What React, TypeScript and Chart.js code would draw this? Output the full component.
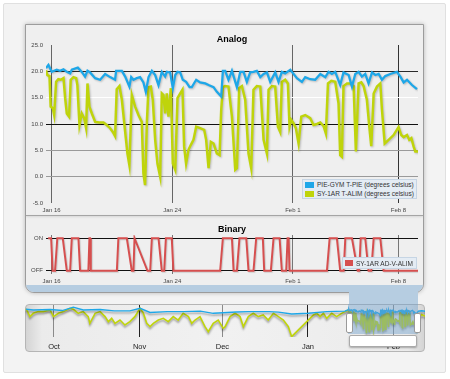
import React, { useEffect, useRef } from "react";
import { Chart, registerables } from "chart.js";

Chart.register(...registerables);

// ---------- DATA (x = days after Jan 16) ----------
const analogTickDays = [0, 8, 16, 23];
const analogTickLabels = ["Jan 16", "Jan 24", "Feb 1", "Feb 8"];
const analogYTicks = [-5, 0, 5, 10, 15, 20, 25];

const blueDays = [-0.37, -0.21, 0.01, 0.34, 0.56, 0.79, 1.01, 1.23, 1.34, 1.74, 2.0, 2.22, 2.38, 2.55, 2.89, 3.22, 3.55, 3.88, 4.21, 4.28, 4.66, 4.88, 5.16, 5.28, 5.43, 5.65, 5.87, 6.09, 6.25, 6.43, 6.65, 6.87, 7.09, 7.31, 7.53, 7.64, 7.86, 8.04, 8.2, 8.35, 8.53, 8.7, 8.92, 9.15, 9.3, 9.59, 9.85, 10.19, 10.41, 10.74, 10.96, 11.25, 11.36, 11.51, 11.73, 11.96, 12.29, 12.51, 12.73, 12.95, 13.17, 13.39, 13.61, 13.84, 14.06, 14.28, 14.5, 14.83, 15.05, 15.27, 15.49, 15.83, 15.94, 16.27, 16.6, 16.82, 17.15, 17.48, 17.82, 18.15, 18.37, 18.59, 18.81, 19.14, 19.36, 19.7, 19.92, 20.14, 20.36, 20.58, 20.8, 21.02, 21.25, 21.47, 21.69, 21.91, 22.13, 22.46, 22.9, 23.13, 23.35, 23.57, 23.9, 24.23];
const blueValues = [20.6, 21.2, 19.9, 20.3, 20.1, 20.4, 19.9, 19.6, 20.3, 20.7, 19.9, 19.0, 20.1, 19.8, 18.7, 18.4, 19.5, 18.9, 18.4, 20.1, 20.1, 19.0, 17.1, 18.9, 18.4, 18.7, 18.9, 17.9, 16.1, 18.9, 20.1, 19.3, 17.4, 19.9, 19.0, 19.9, 19.8, 16.8, 19.3, 19.9, 19.8, 18.4, 18.0, 17.0, 17.0, 18.4, 17.9, 17.7, 17.4, 17.0, 16.1, 15.2, 20.1, 20.1, 18.4, 20.1, 17.0, 19.9, 19.9, 18.0, 19.8, 19.9, 20.1, 18.9, 19.5, 19.8, 18.0, 19.8, 18.0, 19.9, 19.6, 20.3, 19.9, 18.7, 18.0, 18.9, 18.5, 18.4, 19.5, 18.9, 19.9, 19.5, 19.9, 17.4, 19.8, 19.3, 17.1, 19.5, 19.9, 19.0, 19.5, 17.7, 19.8, 19.3, 19.5, 18.4, 19.1, 19.5, 19.9, 19.0, 17.9, 18.4, 17.4, 16.6];

const greenDays = [-0.37, -0.28, -0.14, -0.06, 0.08, 0.17, 0.3, 0.45, 0.61, 0.79, 0.9, 1.01, 1.16, 1.27, 1.45, 1.63, 1.71, 1.85, 2.0, 2.16, 2.29, 2.38, 2.51, 2.67, 2.89, 3.17, 3.44, 3.66, 3.88, 4.06, 4.21, 4.32, 4.5, 4.66, 4.88, 5.03, 5.16, 5.32, 5.54, 5.76, 5.98, 6.09, 6.2, 6.32, 6.43, 6.58, 6.71, 6.87, 7.02, 7.2, 7.31, 7.42, 7.53, 7.64, 7.75, 7.91, 8.04, 8.2, 8.35, 8.53, 8.68, 8.79, 8.92, 9.08, 9.23, 9.41, 9.59, 9.85, 10.12, 10.25, 10.41, 10.56, 10.74, 10.96, 11.14, 11.25, 11.36, 11.51, 11.73, 11.96, 12.18, 12.29, 12.44, 12.62, 12.84, 13.06, 13.24, 13.39, 13.61, 13.84, 14.06, 14.17, 14.28, 14.39, 14.61, 14.83, 15.01, 15.16, 15.27, 15.49, 15.67, 15.78, 15.89, 16.05, 16.2, 16.38, 16.56, 16.82, 17.15, 17.37, 17.6, 17.82, 18.04, 18.19, 18.33, 18.55, 18.81, 19.03, 19.14, 19.25, 19.36, 19.59, 19.81, 20.03, 20.18, 20.36, 20.54, 20.69, 20.91, 21.07, 21.2, 21.36, 21.58, 21.8, 21.91, 22.09, 22.35, 22.68, 23.01, 23.19, 23.35, 23.57, 23.72, 23.86, 24.01, 24.12, 24.3];
const greenValues = [20.2, 19.3, 19.1, 13.3, 13.0, 11.7, 18.0, 18.5, 18.4, 18.7, 14.9, 12.0, 11.4, 18.4, 18.9, 18.7, 17.4, 9.8, 12.0, 11.1, 9.2, 17.7, 13.3, 12.0, 10.4, 10.3, 10.3, 9.8, 9.2, 8.5, 7.7, 16.6, 17.2, 14.6, 8.5, 4.4, 2.2, 15.5, 13.3, 11.7, 10.4, 0.6, -1.6, 10.4, 17.0, 17.1, 14.6, 7.0, 2.5, 0.0, 15.8, 15.5, 12.0, 15.8, 11.4, 16.8, 2.5, 1.3, 14.9, 15.8, 16.5, 5.7, 2.5, 5.1, 6.0, 7.0, 9.5, 9.2, 8.9, 7.0, 1.6, 6.6, 6.3, 4.4, 4.1, 12.7, 17.0, 17.2, 17.1, 11.4, 1.3, 1.6, 16.8, 17.2, 14.6, 4.4, 1.6, 16.5, 17.2, 17.1, 7.0, 5.7, 4.4, 16.5, 17.2, 17.1, 9.5, 8.5, 18.0, 18.4, 17.7, 9.5, 10.8, 10.1, 9.2, 6.3, 11.4, 11.7, 11.1, 9.8, 10.0, 10.3, 9.6, 8.2, 17.7, 18.2, 18.0, 13.9, 4.1, 3.8, 17.2, 17.7, 17.7, 17.2, 4.8, 17.7, 17.9, 17.2, 14.6, 9.5, 5.8, 15.8, 17.1, 17.7, 12.7, 6.3, 7.0, 7.9, 9.4, 7.9, 7.5, 7.9, 7.0, 7.3, 5.7, 4.8, 4.8];

const binaryLabels = ["OFF", "ON"];
const binaryDays = [-0.23, -0.03, 0.07, 0.23, 0.38, 0.74, 1.01, 1.23, 1.34, 1.78, 1.89, 2.44, 2.51, 2.55, 2.6, 4.33, 4.43, 4.99, 5.32, 5.43, 5.5, 5.53, 6.36, 6.54, 6.65, 7.09, 7.31, 7.47, 7.58, 7.97, 8.08, 11.18, 11.36, 11.96, 12.07, 12.29, 12.46, 12.91, 13.06, 13.39, 13.57, 14.01, 14.1, 14.54, 14.72, 15.12, 15.27, 15.56, 15.65, 15.72, 15.78, 18.26, 18.44, 18.92, 19.14, 19.37, 19.48, 19.92, 20.3, 20.4, 20.5, 20.8, 21.02, 21.2, 21.36, 21.8, 22.02, 24.3];
const binaryValues = [1, 1, 0, 0, 1, 1, 0, 0, 1, 1, 0, 0, 1, 1, 0, 0, 1, 1, 0, 0, 1, 1, 0, 0, 1, 1, 0, 0, 1, 1, 0, 0, 1, 1, 0, 0, 1, 1, 0, 0, 1, 1, 0, 0, 1, 1, 0, 0, 1, 1, 0, 0, 1, 1, 0, 0, 1, 1, 0, 0, 1, 1, 0, 0, 1, 1, 0, 0];

// navigator (history before the zoomed range + a short tail after it)
const navMonthDays = [-107, -76, -46, -15, 16];
const navMonthLabels = ["Oct", "Nov", "Dec", "Jan", "Feb"];
const navGreenDays = [-117.1, -115.7, -114.5, -112.7, -110.9, -108.4, -107.2, -105.4, -103.6, -101.2, -100.0, -98.2, -96.4, -94.6, -94.0, -92.1, -90.3, -88.5, -87.3, -86.1, -84.9, -83.1, -81.3, -79.5, -77.7, -75.8, -74.6, -73.4, -72.2, -71.0, -69.2, -67.4, -65.6, -63.8, -62.0, -60.2, -58.3, -57.1, -55.9, -54.1, -52.3, -51.1, -49.3, -47.5, -45.7, -45.0, -43.2, -41.4, -39.6, -38.4, -36.6, -34.8, -33.0, -31.2, -29.4, -27.5, -25.7, -23.9, -22.1, -20.9, -13.0, -11.8, -10.6, -9.4, -8.2, -6.4, -4.6, -2.8, -1.6];
const navGreenValues = [21.5, 14.1, 17.2, 18.8, 18.8, 20.3, 14.1, 17.2, 18.8, 21.9, 21.0, 17.2, 18.8, 14.1, 7.8, 17.2, 18.8, 14.1, 9.4, 12.5, 7.8, 10.9, 6.3, 9.4, 14.1, 21.9, 17.2, 7.8, 4.7, 7.8, 10.9, 12.5, 9.4, 14.1, 10.9, 17.2, 14.1, 7.8, 10.9, 14.1, 4.7, 0.0, 7.8, 10.9, 3.1, 4.7, 14.1, 17.2, 14.1, 4.7, 14.1, 17.2, 14.1, 15.6, 10.9, 17.2, 14.1, 10.9, 4.7, -4.7, 15.6, 17.2, 14.1, 17.2, 12.5, 17.2, 14.1, 17.2, 18.8];
const navBlueDays = [-117.1, -114.5, -108.4, -104, -100.0, -96.4, -90.3, -85.2, -79.5, -75.8, -72.2, -66.0, -60.0, -54.0, -49.3, -45.7, -41.0, -36.6, -29.0, -25.7, -20.9, -14.9, -8.2, -1.6];
const navBlueValues = [21.0, 20.3, 20.8, 19.8, 23.0, 20.3, 20.8, 19.5, 19.5, 21.9, 18.0, 18.8, 18.8, 19.3, 17.2, 17.8, 18.5, 18.8, 18.8, 18.3, 16.5, 17.2, 18.8, 19.3];
const navTailDays = [25.0, 26.2, 27.4];
const navTailBlue = [19.3, 19.6, 19.2];
const navTailGreen = [12.0, 16.0, 14.5];

// ---------- STYLE ----------
const BLUE = "#1ea7e8";
const GREEN = "#bfd40b";
const RED = "#d64f4f";
const FONT = "'Liberation Sans', Arial, Helvetica, sans-serif";
const X_MIN = -0.37;
const X_MAX = 24.3;

Chart.defaults.font.family = FONT;

const pts = (xs: number[], ys: number[]) => xs.map((x, i) => ({ x, y: ys[i] }));

const shadowPlugin = {
  id: "lineShadow",
  beforeDatasetsDraw(chart: any, _a: any, opts: any) {
    const c = chart.ctx;
    c.save();
    c.shadowColor = opts.color || "rgba(0,0,0,0.25)";
    c.shadowBlur = opts.blur ?? 2;
    c.shadowOffsetX = opts.dx ?? 1;
    c.shadowOffsetY = opts.dy ?? 1;
  },
  afterDatasetsDraw(chart: any) {
    chart.ctx.restore();
  },
};

function analogConfig(): any {
  return {
    type: "line",
    data: {
      datasets: [
        { label: "PIE-GYM T-PIE (degrees celsius)", data: pts(blueDays, blueValues), borderColor: BLUE, borderWidth: 2.3, pointRadius: 0, tension: 0, fill: false },
        { label: "SY-1AR T-ALIM (degrees celsius)", data: pts(greenDays, greenValues), borderColor: GREEN, borderWidth: 2.5, pointRadius: 0, tension: 0, fill: false },
      ],
    },
    plugins: [shadowPlugin],
    options: {
      animation: false,
      responsive: false,
      devicePixelRatio: 1,
      events: [],
      layout: { padding: { left: 0, right: 6, top: 21, bottom: 0 } },
      plugins: { legend: { display: false }, tooltip: { enabled: false }, lineShadow: { color: "rgba(0,0,0,0.22)", blur: 2, dx: 1, dy: 1 } },
      scales: {
        x: {
          type: "linear", min: X_MIN, max: X_MAX,
          afterBuildTicks: (s: any) => { s.ticks = analogTickDays.map((v) => ({ value: v })); },
          afterFit: (s: any) => { s.height = 12; },
          ticks: { callback: (_v: any, i: number) => analogTickLabels[i], font: { size: 6 }, color: "#444", padding: 4, maxRotation: 0, autoSkip: false },
          grid: { color: (c: any) => (c.tick && c.tick.value === 23 ? "#333" : "#666"), drawTicks: false, lineWidth: 1 },
          border: { display: false },
        },
        y: {
          type: "linear", min: -5, max: 25,
          afterBuildTicks: (s: any) => { s.ticks = analogYTicks.map((v) => ({ value: v })); },
          afterFit: (s: any) => { s.width = 21; },
          ticks: { callback: (v: any) => Number(v).toFixed(1), font: { size: 6 }, color: "#444", padding: 3 },
          grid: {
            drawTicks: false,
            color: (c: any) => {
              const v = c.tick ? c.tick.value : null;
              if (v === 20) return "#2a2a2a";
              if (v === 10) return "#111";
              if (v === 15) return "#ffffff";
              if (v === 5 || v === 0) return "#9a9a9a";
              return "rgba(0,0,0,0)";
            },
          },
          border: { display: false },
        },
      },
    },
  };
}

function binaryConfig(): any {
  return {
    type: "line",
    data: {
      datasets: [
        { label: "SY-1AR AD-V-ALIM", data: pts(binaryDays, binaryValues), borderColor: RED, borderWidth: 2, pointRadius: 0, tension: 0, fill: false },
      ],
    },
    plugins: [shadowPlugin],
    options: {
      animation: false,
      responsive: false,
      devicePixelRatio: 1,
      events: [],
      layout: { padding: { left: 0, right: 6, top: 20, bottom: 0 } },
      plugins: { legend: { display: false }, tooltip: { enabled: false }, lineShadow: { color: "rgba(0,0,0,0.15)", blur: 1, dx: 1, dy: 1 } },
      scales: {
        x: {
          type: "linear", min: X_MIN, max: X_MAX,
          afterBuildTicks: (s: any) => { s.ticks = analogTickDays.map((v) => ({ value: v })); },
          afterFit: (s: any) => { s.height = 11; },
          ticks: { callback: (_v: any, i: number) => analogTickLabels[i], font: { size: 6 }, color: "#444", padding: 4, maxRotation: 0, autoSkip: false },
          grid: { color: "#777", drawTicks: false },
          border: { display: false },
        },
        y: {
          type: "linear", min: -0.1, max: 1.1,
          afterBuildTicks: (s: any) => { s.ticks = [{ value: 0 }, { value: 1 }]; },
          afterFit: (s: any) => { s.width = 21; },
          ticks: { callback: (v: any) => binaryLabels[Number(v)], font: { size: 6 }, color: "#444", padding: 3 },
          grid: { color: "#111", drawTicks: false },
          border: { display: false },
        },
      },
    },
  };
}

function navConfig(): any {
  return {
    type: "line",
    data: {
      datasets: [
        { data: [...pts(navBlueDays, navBlueValues), ...pts(blueDays, blueValues), ...pts(navTailDays, navTailBlue)], borderColor: BLUE, borderWidth: 1.4, pointRadius: 0, tension: 0, fill: false },
        { data: [...pts(navGreenDays, navGreenValues), ...pts(greenDays, greenValues), ...pts(navTailDays, navTailGreen)], borderColor: GREEN, borderWidth: 1.6, pointRadius: 0, tension: 0, fill: false },
      ],
    },
    plugins: [shadowPlugin],
    options: {
      animation: false,
      responsive: false,
      devicePixelRatio: 1,
      events: [],
      layout: { padding: { left: 0, right: 0, top: 1, bottom: 0 } },
      plugins: { legend: { display: false }, tooltip: { enabled: false }, lineShadow: { color: "rgba(0,0,0,0.35)", blur: 2, dx: 0, dy: 2 } },
      scales: {
        x: {
          type: "linear", min: -117.5, max: 27.4,
          afterBuildTicks: (s: any) => { s.ticks = navMonthDays.map((v) => ({ value: v })); },
          afterFit: (s: any) => { s.height = 15; },
          ticks: { callback: (_v: any, i: number) => navMonthLabels[i], font: { size: 7.5 }, color: "#222", padding: 5, maxRotation: 0, autoSkip: false },
          grid: { color: (c: any) => (c.index === 1 || c.index === 3 ? "#222" : "#8a8a8a"), drawTicks: false },
          border: { display: false },
        },
        y: { type: "linear", min: -5, max: 25, display: false },
      },
    },
  };
}

const abs = (s: React.CSSProperties): React.CSSProperties => ({ position: "absolute", ...s });

export default function App() {
  const aRef = useRef<HTMLCanvasElement>(null);
  const bRef = useRef<HTMLCanvasElement>(null);
  const nRef = useRef<HTMLCanvasElement>(null);

  useEffect(() => {
    const charts = [
      new Chart(aRef.current as HTMLCanvasElement, analogConfig()),
      new Chart(bRef.current as HTMLCanvasElement, binaryConfig()),
      new Chart(nRef.current as HTMLCanvasElement, navConfig()),
    ];
    return () => charts.forEach((c) => c.destroy());
  }, []);

  const legendText: React.CSSProperties = { fontSize: 6.5, color: "#333", lineHeight: "9px", whiteSpace: "nowrap" };

  return (
    <div style={abs({ left: 0, top: 0, width: 450, height: 379, background: "#fff", fontFamily: FONT, overflow: "hidden" })}>
      {/* outer frame */}
      <div style={abs({ left: 3, top: 3, width: 441, height: 368, background: "#f3f3f3", border: "1px solid #e0e0e0", borderRadius: 2 })} />

      {/* main panel */}
      <div style={abs({ left: 25, top: 24, width: 397, height: 267, background: "#efefef", border: "1px solid #9c9c9c", borderRadius: "0 0 9px 9px", boxShadow: "0 0 4px rgba(0,0,0,0.25)", overflow: "hidden" })}>
        <div style={abs({ left: 0, top: 190, width: 397, height: 1, background: "#a5a5a5", boxShadow: "0 1px 2px rgba(0,0,0,0.15)" })} />
        <div style={abs({ left: 0, top: 260, width: 397, height: 8, background: "#b6cde1" })} />
      </div>
      {/* tab to navigator */}
      <div style={abs({ left: 349, top: 290, width: 69, height: 15, background: "#b6cde1" })} />

      {/* navigator frame */}
      <div style={abs({ left: 25, top: 304, width: 398, height: 46, border: "1px solid #b5b5b5", borderRadius: 4, background: "linear-gradient(to right, #d4d4d4 0%, #ebebeb 4%, #f1f1f1 50%, #ebebeb 96%, #d4d4d4 100%)" })} />

      <canvas ref={aRef} width={399} height={191} style={abs({ left: 25, top: 24, width: 399, height: 191 })} />
      <canvas ref={bRef} width={399} height={70} style={abs({ left: 25, top: 215, width: 399, height: 70 })} />
      <canvas ref={nRef} width={400} height={48} style={abs({ left: 25, top: 304, width: 400, height: 48 })} />

      {/* titles */}
      <div style={abs({ left: 46, top: 34, width: 372, textAlign: "center", fontWeight: "bold", fontSize: 9, lineHeight: "10px", color: "#000" })}>Analog</div>
      <div style={abs({ left: 46, top: 224, width: 372, textAlign: "center", fontWeight: "bold", fontSize: 9, lineHeight: "10px", color: "#000" })}>Binary</div>

      {/* analog legend */}
      <div style={abs({ left: 302, top: 179, width: 113, height: 18, background: "#e4ecf4", border: "1px solid #c6d5e4" })}>
        <div style={abs({ left: 2, top: 2, width: 9, height: 6, background: BLUE })} />
        <div style={abs({ left: 14, top: 0, ...legendText })}>PIE-GYM T-PIE (degrees celsius)</div>
        <div style={abs({ left: 2, top: 11, width: 9, height: 6, background: GREEN })} />
        <div style={abs({ left: 14, top: 9, ...legendText })}>SY-1AR T-ALIM (degrees celsius)</div>
      </div>

      {/* binary legend */}
      <div style={abs({ left: 342, top: 257, width: 73, height: 10, background: "#e4ecf4", border: "1px solid #c6d5e4" })}>
        <div style={abs({ left: 2, top: 2, width: 8, height: 6, background: RED })} />
        <div style={abs({ left: 13, top: 0.5, ...legendText })}>SY-1AR AD-V-ALIM</div>
      </div>

      {/* navigator selection */}
      <div style={abs({ left: 348, top: 304, width: 70, height: 30, background: "rgba(111,160,205,0.45)" })} />
      <div style={abs({ left: 346, top: 313, width: 5, height: 18, background: "#fff", border: "1px solid #999", borderRadius: 2 })} />
      <div style={abs({ left: 414, top: 313, width: 5, height: 18, background: "#fff", border: "1px solid #999", borderRadius: 2 })} />
      <div style={abs({ left: 349, top: 335, width: 66, height: 10, background: "#fff", border: "1px solid #aaa", borderRadius: 2, boxShadow: "0 1px 2px rgba(0,0,0,0.3)" })} />
    </div>
  );
}
